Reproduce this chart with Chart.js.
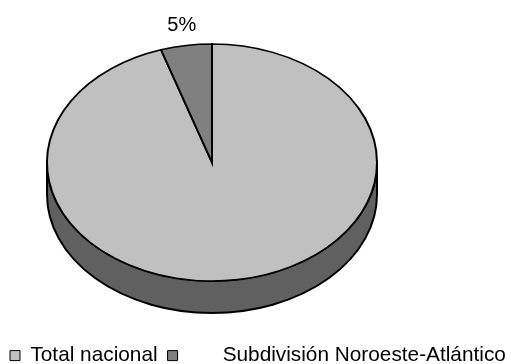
<!DOCTYPE html>
<html>
<head>
<meta charset="utf-8">
<script src="https://cdn.jsdelivr.net/npm/chart.js@4.4.1/dist/chart.umd.min.js"></script>
<style>
  html, body { margin: 0; padding: 0; background: #ffffff; }
  #wrap { width: 520px; height: 364px; }
</style>
</head>
<body>
<div id="wrap"><canvas id="c" width="520" height="364"></canvas></div>
<script>
// Share of the national total held by the north-west Atlantic subdivision
const categories = ['Total nacional', 'Subdivisión Noroeste-Atlántico'];
const shares = [95, 5];
const sliceColors = ['#c0c0c0', '#808080'];
const sideColors = ['#606060', '#404040'];
const showPercent = [false, true];

// Tilted-disc geometry (top face ellipse and wall height)
const disc = { cx: 212, cy: 162.5, rx: 165, ry: 118.5, depth: 32, labelFactor: 1.17 };
const FONT = "Arial, 'Liberation Sans', sans-serif";

const pie3d = {
  id: 'pie3d',
  beforeDatasetsDraw(chart) {
    const ctx = chart.ctx;
    const meta = chart.getDatasetMeta(0);
    const { cx, cy, rx, ry, depth } = disc;
    // Front wall: only the part of each slice facing the viewer (0..PI)
    meta.data.forEach((arc, i) => {
      const ranges = [[0, Math.PI], [2 * Math.PI, 3 * Math.PI]];
      ranges.forEach(([lo, hi]) => {
        const s = Math.max(arc.startAngle, lo);
        const e = Math.min(arc.endAngle, hi);
        if (e <= s) return;
        ctx.save();
        ctx.beginPath();
        ctx.ellipse(cx, cy, rx, ry, 0, s, e, false);
        ctx.lineTo(cx + rx * Math.cos(e), cy + ry * Math.sin(e) + depth);
        ctx.ellipse(cx, cy + depth, rx, ry, 0, e, s, true);
        ctx.closePath();
        ctx.fillStyle = sideColors[i];
        ctx.fill();
        ctx.lineWidth = 2;
        ctx.lineJoin = 'round';
        ctx.strokeStyle = '#000';
        ctx.stroke();
        ctx.restore();
      });
    });
    // Squash the round pie into the top face
    const a = meta.data[0];
    const r = a.outerRadius;
    ctx.save();
    ctx.translate(cx, cy);
    ctx.scale(rx / r, ry / r);
    ctx.translate(-a.x, -a.y);
  },
  afterDatasetsDraw(chart) {
    const ctx = chart.ctx;
    ctx.restore();
    const meta = chart.getDatasetMeta(0);
    const total = shares.reduce((p, v) => p + v, 0);
    const { cx, cy, rx, ry, labelFactor } = disc;
    ctx.save();
    ctx.font = '20px ' + FONT;
    ctx.fillStyle = '#000';
    ctx.textAlign = 'center';
    ctx.textBaseline = 'middle';
    meta.data.forEach((arc, i) => {
      if (!showPercent[i]) return;
      const mid = (arc.startAngle + arc.endAngle) / 2;
      const x = cx + rx * labelFactor * Math.cos(mid);
      const y = cy + ry * labelFactor * Math.sin(mid);
      ctx.fillText(Math.round(shares[i] / total * 100) + '%', x, y);
    });
    ctx.restore();
  }
};

new Chart(document.getElementById('c'), {
  type: 'pie',
  data: {
    labels: categories,
    datasets: [{
      data: shares,
      backgroundColor: sliceColors,
      borderColor: '#000000',
      borderWidth: 2,
      borderJoinStyle: 'miter',
      clip: false
    }]
  },
  options: {
    responsive: false,
    animation: false,
    devicePixelRatio: 1,
    layout: { padding: { top: 0, left: 0, right: 0, bottom: -12 } },
    events: [],
    plugins: {
      tooltip: { enabled: false },
      legend: {
        position: 'bottom',
        align: 'start',
        labels: {
          boxWidth: 10,
          boxHeight: 10,
          padding: 10,
          color: '#000',
          font: { family: FONT, size: 20.8 },
          generateLabels(chart) {
            return categories.map((name, i) => ({
              text: (i === 1 ? '      ' : '') + name,
              fillStyle: sliceColors[i],
              strokeStyle: '#000000',
              lineWidth: 1,
              hidden: false,
              index: i
            }));
          }
        }
      }
    }
  },
  plugins: [pie3d]
});
</script>
</body>
</html>
